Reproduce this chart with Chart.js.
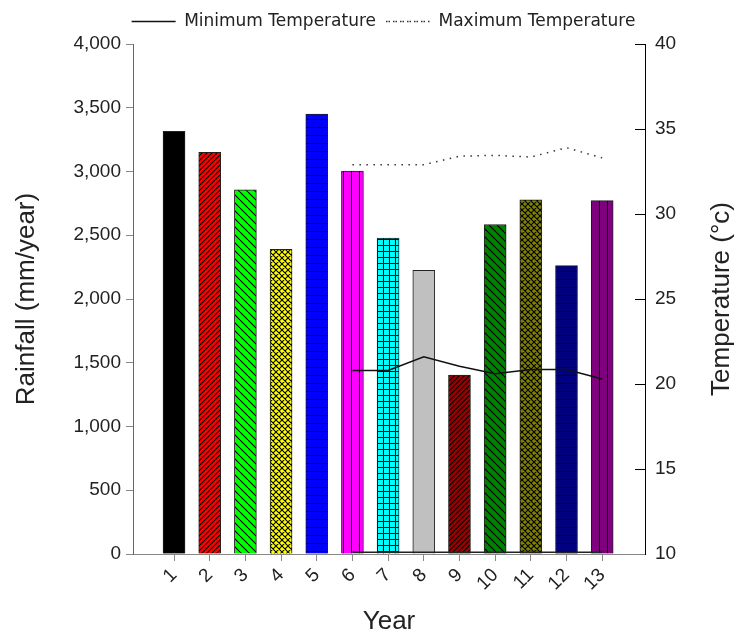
<!DOCTYPE html>
<html lang="en">
<head>
  <meta charset="UTF-8">
  <title>Rainfall and Temperature</title>
  <script src="https://cdn.jsdelivr.net/npm/chart.js"></script>
  <style>
    html, body { margin: 0; padding: 0; background: #fff; }
    #wrap { width: 737px; height: 635px; }
  </style>
</head>
<body>
  <div id="wrap"><canvas id="chart"></canvas></div>

  <script>
    const years = [1, 2, 3, 4, 5, 6, 7, 8, 9, 10, 11, 12, 13];
    const rainfall = [3315, 3150, 2857, 2389, 3450, 3003, 2478, 2225, 1404, 2584, 2777, 2262, 2772];

    const tempYears = [6, 7, 8, 9, 10, 11, 12, 13];
    const minTemp = [20.8, 20.8, 21.6, 21.05, 20.6, 20.85, 20.85, 20.3];
    const maxTemp = [32.9, 32.9, 32.9, 33.4, 33.45, 33.35, 33.9, 33.3];
    const floorTemp = [10.1, 10.1, 10.1, 10.1, 10.1, 10.1, 10.1, 10.1];

    const barColors = ['#000000', '#ff0000', '#00ff00', '#ffff00', '#0000ff', '#ff00ff', '#00ffff',
                       '#c0c0c0', '#990000', '#008000', '#808000', '#000080', '#800080'];
    const barHatch = ['none', 'fwd', 'back', 'cross', 'horiz', 'vert', 'grid',
                      'none', 'fwd', 'back', 'cross', 'horiz', 'vert'];

    const FONT = "'Liberation Sans', Arial, sans-serif";

    // small hatch tiles, like the fill patterns of the original plot
    function hatch(bg, kind) {
      if (kind === 'none') return bg;
      const s = { fwd: 5, back: 8, cross: 6, horiz: 8, vert: 8, grid: 6 }[kind];
      const c = document.createElement('canvas');
      c.width = c.height = s;
      const g = c.getContext('2d');
      g.fillStyle = bg;
      g.fillRect(0, 0, s, s);
      g.strokeStyle = '#000';
      g.lineWidth = 1.1;
      g.beginPath();
      if (kind === 'fwd' || kind === 'cross') {
        for (let k = -1; k <= 1; k++) { g.moveTo(k * s, s); g.lineTo(k * s + s, 0); }
      }
      if (kind === 'back' || kind === 'cross') {
        for (let k = -1; k <= 1; k++) { g.moveTo(k * s, 0); g.lineTo(k * s + s, s); }
      }
      if (kind === 'horiz' || kind === 'grid') { g.moveTo(0, s - 0.5); g.lineTo(s, s - 0.5); }
      if (kind === 'vert' || kind === 'grid') { g.moveTo(s - 0.5, 0); g.lineTo(s - 0.5, s); }
      g.stroke();
      return g.createPattern(c, 'repeat');
    }

    const rightTitle = {
      id: 'rightTitle',
      afterDraw(chart) {
        const { ctx, chartArea } = chart;
        ctx.save();
        ctx.translate(722, (chartArea.top + chartArea.bottom) / 2);
        ctx.rotate(-Math.PI / 2);
        ctx.font = '26px ' + FONT;
        ctx.fillStyle = '#222';
        ctx.textAlign = 'center';
        ctx.textBaseline = 'middle';
        ctx.fillText('Temperature (°c)', 0, 0);
        ctx.restore();
      }
    };

    // legend sits a bit right of centre and close to the top edge
    const shiftLegend = {
      id: 'shiftLegend',
      afterLayout(chart) {
        const lg = chart.legend;
        lg.left += 15;
        lg.right += 15;
        lg.top -= 4;
        lg.bottom -= 4;
      }
    };

    new Chart(document.getElementById('chart'), {
      type: 'bar',
      data: {
        datasets: [
          {
            label: 'Rainfall',
            data: years.map((x, i) => ({ x, y: rainfall[i] })),
            backgroundColor: barColors.map((c, i) => hatch(c, barHatch[i])),
            borderColor: '#222',
            borderWidth: 1,
            barThickness: 22,
            yAxisID: 'y',
            order: 1
          },
          {
            type: 'line',
            label: 'Minimum Temperature',
            data: tempYears.map((x, i) => ({ x, y: minTemp[i] })),
            borderColor: '#111',
            backgroundColor: 'transparent',
            borderWidth: 1.5,
            pointRadius: 0,
            tension: 0,
            yAxisID: 'y2',
            order: 0
          },
          {
            type: 'line',
            label: 'Maximum Temperature',
            data: tempYears.map((x, i) => ({ x, y: maxTemp[i] })),
            borderColor: '#333',
            backgroundColor: 'transparent',
            borderWidth: 1.5,
            borderDash: [1.5, 5.5],
            pointRadius: 0,
            tension: 0,
            yAxisID: 'y2',
            order: 0
          },
          {
            type: 'line',
            label: 'floor',
            data: tempYears.map((x, i) => ({ x, y: floorTemp[i] })),
            borderColor: '#222',
            borderWidth: 1.5,
            pointRadius: 0,
            yAxisID: 'y2',
            order: 0
          }
        ]
      },
      options: {
        responsive: true,
        maintainAspectRatio: false,
        animation: false,
        layout: { padding: { top: 7, left: 0, right: 0, bottom: 0 } },
        scales: {
          x: {
            type: 'linear',
            offset: false,
            min: -0.15,
            max: 14.2,
            afterBuildTicks: s => { s.ticks = years.map(v => ({ value: v })); },
            afterFit: s => { s.height = 81; },
            grid: { offset: false, drawOnChartArea: false, tickLength: 7, color: '#888' },
            border: { color: '#888', width: 1 },
            ticks: {
              autoSkip: false,
              minRotation: 45,
              maxRotation: 45,
              padding: 3,
              color: '#222',
              font: { family: FONT, size: 19 }
            },
            title: {
              display: true,
              text: 'Year',
              color: '#222',
              padding: { top: 0, bottom: 0 },
              font: { family: FONT, size: 26, lineHeight: 1 }
            }
          },
          y: {
            position: 'left',
            min: 0,
            max: 4000,
            afterFit: s => { s.width = 133; },
            grid: { drawOnChartArea: false, tickLength: 7, color: '#888' },
            border: { color: '#666', width: 1 },
            ticks: {
              stepSize: 500,
              padding: 5,
              color: '#222',
              font: { family: FONT, size: 19 }
            },
            title: {
              display: true,
              text: 'Rainfall (mm/year)',
              color: '#222',
              padding: { top: 14, bottom: 0 },
              font: { family: FONT, size: 26, lineHeight: 1 }
            }
          },
          y2: {
            position: 'right',
            min: 10,
            max: 40,
            afterFit: s => { s.width = 92; },
            grid: { drawOnChartArea: false, tickLength: -10, color: '#000' },
            border: { color: '#000', width: 1 },
            ticks: {
              stepSize: 5,
              padding: 20,
              color: '#222',
              font: { family: FONT, size: 19 }
            }
          }
        },
        plugins: {
          legend: {
            position: 'top',
            labels: {
              boxWidth: 44,
              boxHeight: 0,
              padding: 10,
              color: '#222',
              font: { family: "'DejaVu Sans', sans-serif", size: 17 },
              filter: item => item.text === 'Minimum Temperature' || item.text === 'Maximum Temperature'
            }
          },
          tooltip: { enabled: false }
        }
      },
      plugins: [rightTitle, shiftLegend]
    });
  </script>
</body>
</html>
